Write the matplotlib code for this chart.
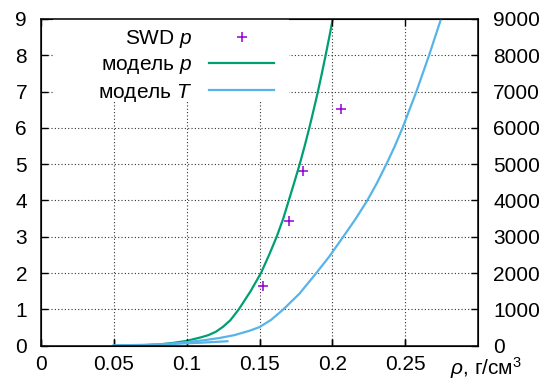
import matplotlib
matplotlib.use("Agg")
import matplotlib.pyplot as plt
from matplotlib.patches import Rectangle

# model p (left axis)
rho_p = [0.05, 0.06, 0.07, 0.08, 0.09, 0.095, 0.10, 0.105, 0.11, 0.115, 0.12, 0.125,
         0.13, 0.1358, 0.1439, 0.151, 0.1566, 0.1618, 0.1663, 0.1701, 0.1739, 0.1776,
         0.1810, 0.1842, 0.1872, 0.1901, 0.1928, 0.1954, 0.1979, 0.2003]
p_model = [0.0, 0.0, 0.01, 0.03, 0.07, 0.10, 0.13, 0.18, 0.23, 0.29, 0.38, 0.52,
           0.70, 1.0, 1.5, 2.0, 2.5, 3.0, 3.5, 4.0, 4.5, 5.0,
           5.5, 6.0, 6.5, 7.0, 7.5, 8.0, 8.5, 9.0]

# model T (right axis)
rho_T = [0.05, 0.06, 0.07, 0.08, 0.09, 0.10, 0.1123, 0.1226, 0.1329, 0.1432, 0.15,
         0.158, 0.1664, 0.1774, 0.189, 0.198, 0.2075, 0.2158, 0.224, 0.2305, 0.2371,
         0.2426, 0.2482, 0.2577, 0.2664, 0.2746]
T_model = [0, 3, 10, 25, 55, 95, 150, 210, 290, 410, 510,
           710, 1000, 1430, 2000, 2460, 3000, 3480, 4000, 4470, 5000,
           5470, 6000, 7000, 8000, 9000]

# short T segment near zero
rho_T0 = [0.05, 0.07, 0.09, 0.11, 0.128]
T_low = [5, 20, 45, 80, 120]

# SWD points
rho_swd = [0.1523, 0.1701, 0.1801, 0.206]
p_swd = [1.64, 3.42, 4.82, 6.51]

plt.rcParams["font.family"] = ["Liberation Sans", "DejaVu Sans"]
plt.rcParams["mathtext.fontset"] = "custom"
plt.rcParams["mathtext.rm"] = "Liberation Sans"
plt.rcParams["mathtext.it"] = "Liberation Sans:italic"
plt.rcParams["font.size"] = 15

fig = plt.figure(figsize=(5.47, 3.87), dpi=100)
ax = fig.add_axes([41 / 547, 41.4 / 387, 437 / 547, 326.6 / 387])
ax2 = ax.twinx()

purple = "#9400d3"
green = "#009e73"
blue = "#56b4e9"

ax.set_xlim(0, 0.3)
ax.set_ylim(0, 9)
ax2.set_ylim(0, 9000)

xt = [0, 0.05, 0.1, 0.15, 0.2, 0.25]
ax.set_xticks(xt)
ax.set_xticklabels(["0", "0.05", "0.1", "0.15", "0.2", "0.25"])
ax.set_yticks(range(10))
ax2.set_yticks(range(0, 9001, 1000))

for v in xt[1:]:
    ax.axvline(v, color="0.2", lw=0.8, ls=(0, (1, 2)), zorder=0.5)
for v in range(1, 9):
    ax.axhline(v, color="0.2", lw=0.8, ls=(0, (1, 2)), zorder=0.5)

ax.plot(rho_swd, p_swd, "+", color=purple, ms=7, mew=1.1, label=r"SWD $p$")
ax.plot(rho_p, p_model, color=green, lw=1.6, label=r"модель $p$")
lt, = ax2.plot(rho_T, T_model, color=blue, lw=1.6, label=r"модель $T$")
ax2.plot(rho_T0, T_low, color=blue, lw=1.6)

ax.tick_params(direction="in", length=5, width=1, pad=10, top=False, right=False)
ax.tick_params(axis="x", pad=7)
ax2.tick_params(direction="in", length=5, width=1, pad=11)
ax2.xaxis.set_visible(True)
ax2.tick_params(axis="x", top=True, bottom=True, labeltop=False, labelbottom=False,
                direction="in", length=5, width=1)
for sp in ax2.spines.values():
    sp.set_linewidth(1.1)

ax2.add_patch(Rectangle((0.027, 0.752), 0.54, 0.248, transform=ax2.transAxes,
                        facecolor="white", edgecolor="none", zorder=1.9))
h1, l1 = ax.get_legend_handles_labels()
leg = ax2.legend(h1 + [lt], l1 + [r"модель $T$"], loc="upper right",
                 bbox_to_anchor=(0.533, 0.973), markerfirst=False, frameon=False,
                 borderpad=0, borderaxespad=0, handlelength=3.1, handletextpad=0.8,
                 labelspacing=0.26, fontsize=15)
leg.set_zorder(2)

ax.annotate(r"$\rho$, г/см$^3$", xy=(0.936, 0), xycoords="axes fraction",
            xytext=(0, -7), textcoords="offset points", ha="left", va="top")

fig.savefig("out.png", dpi=100)
